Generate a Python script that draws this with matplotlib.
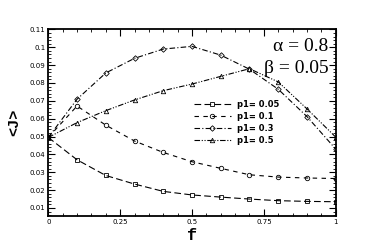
import matplotlib.pyplot as plt
from matplotlib.ticker import MultipleLocator

f = [0, 0.1, 0.2, 0.3, 0.4, 0.5, 0.6, 0.7, 0.8, 0.9, 1.0]
j_005 = [0.0495, 0.0370, 0.0282, 0.0234, 0.0193, 0.0173, 0.0161, 0.0150, 0.0141, 0.0137, 0.0135]
j_01 = [0.0495, 0.0671, 0.0564, 0.0475, 0.0411, 0.0359, 0.0322, 0.0286, 0.0273, 0.0268, 0.0265]
j_03 = [0.0495, 0.0709, 0.0856, 0.0938, 0.0990, 0.1005, 0.0956, 0.0877, 0.0765, 0.0612, 0.0430]
j_05 = [0.0495, 0.0578, 0.0645, 0.0705, 0.0757, 0.0794, 0.0837, 0.0880, 0.0806, 0.0655, 0.0497]
labels = ['p1= 0.05', 'p1= 0.1', 'p1= 0.3', 'p1= 0.5']
xticks = [0, 0.25, 0.5, 0.75, 1]
xticklabels = ['0', '0.25', '0.5', '0.75', '1']

fig = plt.figure(figsize=(3.82, 2.43), dpi=100)
ax = fig.add_axes([0.1264, 0.111, 0.7524, 0.768])

mk = dict(color='black', lw=0.8, markersize=3.2, markerfacecolor='none', markeredgewidth=0.6)
ax.plot(f, j_005, marker='s', linestyle=(0, (6, 3)), label=labels[0], **mk)
ax.plot(f, j_01, marker='o', linestyle=(0, (4, 4)), label=labels[1], **mk)
ax.plot(f, j_03, marker='D', linestyle=(0, (5, 2, 1, 2)), label=labels[2], markersize=2.8,
        color='black', lw=0.8, markerfacecolor='none', markeredgewidth=0.6)
ax.plot(f, j_05, marker='^', linestyle=(0, (5, 1.5, 1, 1.5, 1, 1.5)), label=labels[3], **mk)

ax.set_xlim(0, 1)
ax.set_ylim(0.0055, 0.11)
ax.set_xticks(xticks)
ax.set_xticklabels(xticklabels)
ax.xaxis.set_minor_locator(MultipleLocator(0.05))
ax.yaxis.set_minor_locator(MultipleLocator(0.002))
ax.set_yticks([0.01 * i for i in range(1, 12)])
ax.set_yticklabels(['0.01', '0.02', '0.03', '0.04', '0.05', '0.06', '0.07', '0.08', '0.09', '0.1', '0.11'])
ax.tick_params(which='both', direction='in', top=True, right=True, labelsize=5, pad=2)
ax.tick_params(which='major', length=5, width=0.8)
ax.tick_params(which='minor', length=2.5, width=0.6)
for s in ax.spines.values():
    s.set_linewidth(1.3)

ax.set_xlabel('f', family='Liberation Mono', fontweight='bold', fontsize=12, labelpad=2)
ax.set_ylabel('<J>', family='Liberation Mono', fontweight='bold', fontsize=11, labelpad=6)

ax.text(0.975, 0.955, 'α = 0.8', transform=ax.transAxes, ha='right', va='top',
        fontsize=14, family='Liberation Serif')
ax.text(0.975, 0.835, 'β = 0.05', transform=ax.transAxes, ha='right', va='top',
        fontsize=14, family='Liberation Serif')

leg = ax.legend(loc='center left', bbox_to_anchor=(0.48, 0.50), frameon=False,
                prop={'size': 6, 'weight': 'bold'}, handlelength=4.5, labelspacing=0.35,
                handletextpad=0.7)

fig.savefig('out.png', dpi=100)
